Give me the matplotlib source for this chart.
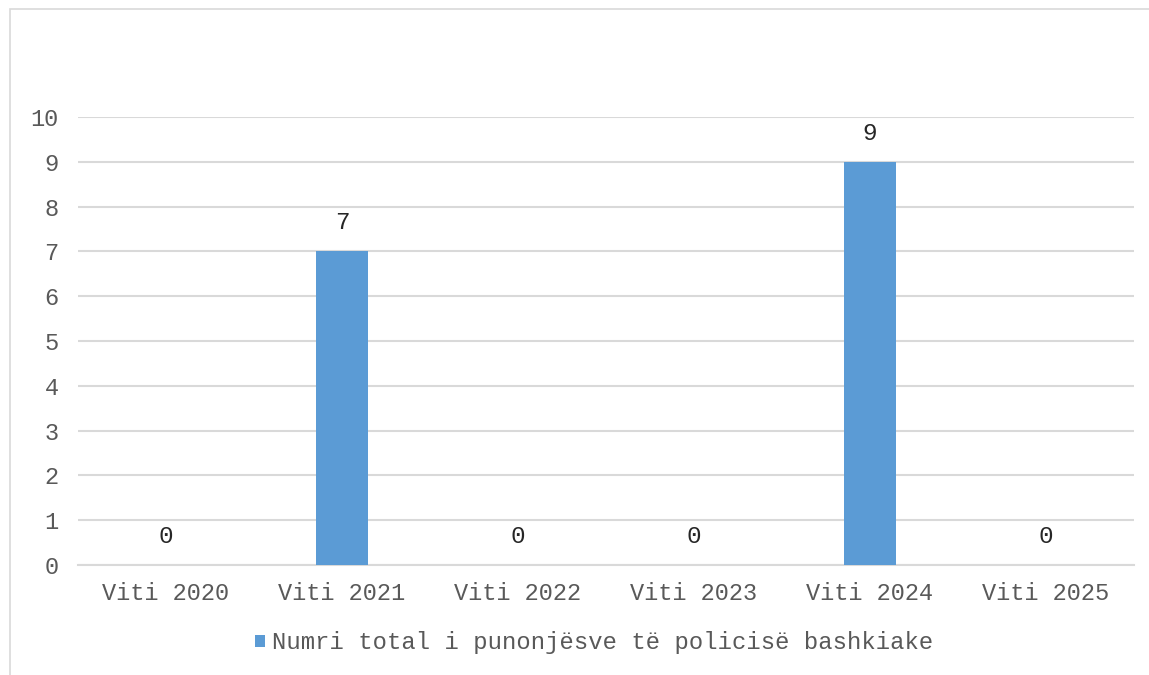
import matplotlib.pyplot as plt
from matplotlib.patches import Rectangle

categories = ['Viti 2020', 'Viti 2021', 'Viti 2022', 'Viti 2023', 'Viti 2024', 'Viti 2025']
values = [0, 7, 0, 0, 9, 0]
series_name = 'Numri total i punonjësve të policisë bashkiake'

plt.rcParams['font.family'] = ['Liberation Mono', 'DejaVu Sans Mono']

fig = plt.figure(figsize=(11.49, 6.75), dpi=100)
ax = fig.add_axes([78 / 1149, 1 - 565 / 675, (1134 - 78) / 1149, (565 - 117) / 675])

x = list(range(len(categories)))
bars = ax.bar(x, values, width=0.3, color='#5b9bd5', label=series_name, zorder=3)

# data labels
for xi, v in zip(x, values):
    ax.text(xi, v + 0.38, str(v), ha='center', va='bottom', fontsize=17.5, color='#262626')

ax.set_xlim(-0.5, len(categories) - 0.5)
ax.set_ylim(0, 10)
ax.set_yticks(range(0, 11))
ax.set_xticks(x)
ax.set_xticklabels(categories)
ax.tick_params(axis='both', length=0, labelsize=17, colors='#595959')
ax.tick_params(axis='y', pad=14)
ax.tick_params(axis='x', pad=12)
ax.grid(axis='y', color='#d9d9d9', linewidth=1.5, zorder=0)
for s in ['top', 'right', 'left']:
    ax.spines[s].set_visible(False)
ax.spines['bottom'].set_color('#d9d9d9')
ax.spines['bottom'].set_linewidth(1.5)

fig.legend(loc='center', bbox_to_anchor=(594 / 1149, 1 - 643 / 675), frameon=False,
           fontsize=17.2, handlelength=0.4, handleheight=0.4, handletextpad=0.3,
           labelcolor='#595959')

# chart border (partially cropped)
fig.patches.append(Rectangle((10 / 1149, -0.1), 1.2, 1 - 9 / 675 + 0.1, transform=fig.transFigure,
                             fill=False, edgecolor='#d9d9d9', linewidth=1.2))

fig.savefig('out.png', dpi=100)
